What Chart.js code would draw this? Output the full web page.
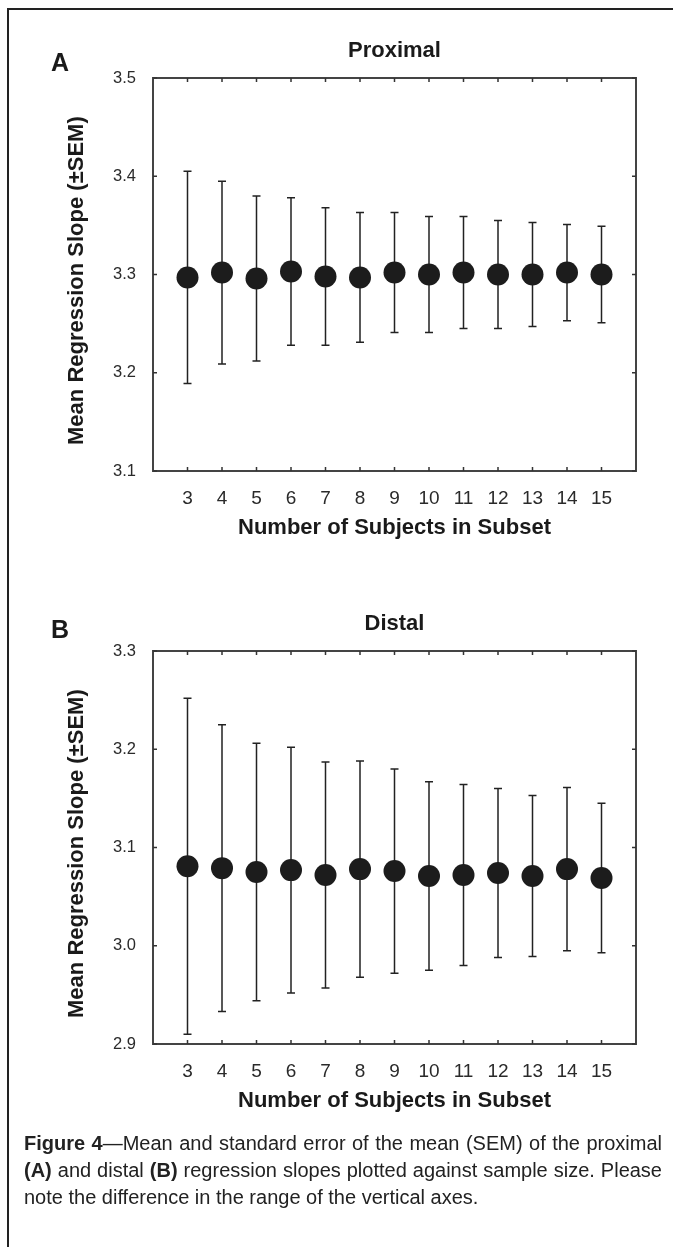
<!DOCTYPE html>
<html>
<head>
<meta charset="utf-8">
<script src="https://cdn.jsdelivr.net/npm/chart.js@4.4.1/dist/chart.umd.min.js"></script>
<style>
  html, body { margin: 0; padding: 0; background: #fff; }
  body { width: 673px; height: 1247px; position: relative; overflow: hidden; }
  #frame { position: absolute; left: 7px; top: 8px; right: -4px; bottom: -4px;
           border-top: 2px solid #222; border-left: 2px solid #222; }
  canvas { position: absolute; left: 0; }
  #chartA { top: 0; }
  #chartB { top: 573px; }
  #caption { position: absolute; left: 24px; top: 1130px; width: 638px;
             font-family: "Liberation Sans", Arial, sans-serif; font-size: 20px;
             line-height: 27px; color: #222; }
  #caption .line { white-space: nowrap; }
  #caption .j { text-align: justify; text-align-last: justify; }
</style>
</head>
<body>
<div id="frame"></div>
<canvas id="chartA" width="673" height="573"></canvas>
<canvas id="chartB" width="673" height="573"></canvas>
<div id="caption">
  <div class="line j"><b>Figure 4</b>—Mean and standard error of the mean (SEM) of the proximal</div>
  <div class="line j"><b>(A)</b> and distal <b>(B)</b> regression slopes plotted against sample size. Please</div>
  <div class="line">note the difference in the range of the vertical axes.</div>
</div>
<script>
// number of subjects in subset (x axis)
const subsets = [3, 4, 5, 6, 7, 8, 9, 10, 11, 12, 13, 14, 15]

// panel A, proximal
const proximalMean = [3.297, 3.302, 3.296, 3.303, 3.298, 3.297, 3.302, 3.300, 3.302, 3.300, 3.300, 3.302, 3.300]
const proximalSem = [0.108, 0.093, 0.084, 0.075, 0.070, 0.066, 0.061, 0.059, 0.057, 0.055, 0.053, 0.049, 0.049]
const proximalTicks = [3.1, 3.2, 3.3, 3.4, 3.5]

// panel B, distal
const distalMean = [3.081, 3.079, 3.075, 3.077, 3.072, 3.078, 3.076, 3.071, 3.072, 3.074, 3.071, 3.078, 3.069]
const distalSem = [0.171, 0.146, 0.131, 0.125, 0.115, 0.110, 0.104, 0.096, 0.092, 0.086, 0.082, 0.083, 0.076]
const distalTicks = [2.9, 3.0, 3.1, 3.2, 3.3]

Chart.defaults.font.family = '"Liberation Sans", Arial, sans-serif'
Chart.defaults.color = "#2a2a2a"

// error bars, box and inward ticks, panel letter
const figurePlugin = {
    id: "figure",
    beforeDatasetsDraw(chart, args, opts) {
        const ctx = chart.ctx
        const xs = chart.scales.x, ys = chart.scales.y
        ctx.save()
        ctx.strokeStyle = "#222"
        ctx.lineWidth = 1.5
        opts.mean.forEach((m, i) => {
            const x = xs.getPixelForValue(subsets[i])
            const top = ys.getPixelForValue(m + opts.sem[i])
            const bot = ys.getPixelForValue(m - opts.sem[i])
            ctx.beginPath()
            ctx.moveTo(x, top); ctx.lineTo(x, bot)
            ctx.moveTo(x - 4, top); ctx.lineTo(x + 4, top)
            ctx.moveTo(x - 4, bot); ctx.lineTo(x + 4, bot)
            ctx.stroke()
        })
        ctx.restore()
    },
    afterDraw(chart, args, opts) {
        const ctx = chart.ctx
        const a = chart.chartArea
        const xs = chart.scales.x, ys = chart.scales.y
        ctx.save()
        ctx.strokeStyle = "#444"
        ctx.lineWidth = 2
        ctx.strokeRect(a.left, a.top, a.right - a.left, a.bottom - a.top)
        ctx.lineWidth = 1.5
        ctx.strokeStyle = "#333"
        ctx.beginPath()
        xs.ticks.forEach(t => {
            const x = xs.getPixelForValue(t.value)
            ctx.moveTo(x, a.bottom); ctx.lineTo(x, a.bottom - 4)
            ctx.moveTo(x, a.top); ctx.lineTo(x, a.top + 4)
        })
        ys.ticks.forEach(t => {
            const y = ys.getPixelForValue(t.value)
            ctx.moveTo(a.left, y); ctx.lineTo(a.left + 4, y)
            ctx.moveTo(a.right, y); ctx.lineTo(a.right - 4, y)
        })
        ctx.stroke()
        ctx.fillStyle = "#1a1a1a"
        ctx.font = 'bold 25px "Liberation Sans", Arial, sans-serif'
        ctx.textAlign = "center"
        ctx.textBaseline = "middle"
        ctx.fillText(opts.letter, 60, opts.letterY)
        ctx.restore()
    }
}

function makePanel(id, title, letter, letterY, mean, sem, yTicks) {
    return new Chart(document.getElementById(id), {
        type: "scatter",
        data: {
            datasets: [{
                data: subsets.map((s, i) => ({ x: s, y: mean[i] })),
                pointRadius: 11,
                pointHoverRadius: 11,
                backgroundColor: "#1c1c1c",
                borderWidth: 0,
            }]
        },
        options: {
            responsive: false,
            animation: false,
            devicePixelRatio: 1,
            layout: { padding: { left: 0, right: 37, top: 0, bottom: 0 } },
            plugins: {
                legend: { display: false },
                tooltip: { enabled: false },
                title: {
                    display: true,
                    text: title,
                    fullSize: false,
                    color: "#1a1a1a",
                    font: { size: 22, weight: "bold" },
                    padding: { top: 38, bottom: 13.6 },
                },
                figure: { mean: mean, sem: sem, letter: letter, letterY: letterY },
            },
            scales: {
                x: {
                    type: "linear",
                    min: 2,
                    max: 16,
                    afterBuildTicks(scale) { scale.ticks = subsets.map(v => ({ value: v })) },
                    afterFit(scale) { scale.height = 102 },
                    grid: { display: false },
                    border: { display: false },
                    ticks: { font: { size: 19 }, padding: 8, maxRotation: 0, autoSkip: false,
                             callback: v => String(v) },
                    title: {
                        display: true,
                        text: "Number of Subjects in Subset",
                        color: "#1a1a1a",
                        font: { size: 22, weight: "bold" },
                        padding: { top: 0, bottom: 31.8 },
                    },
                },
                y: {
                    type: "linear",
                    min: yTicks[0],
                    max: yTicks[yTicks.length - 1],
                    afterBuildTicks(scale) { scale.ticks = yTicks.map(v => ({ value: v })) },
                    afterFit(scale) { scale.width = 153 },
                    grid: { display: false },
                    border: { display: false },
                    ticks: { font: { size: 16.5 }, padding: 9, callback: v => v.toFixed(1) },
                    title: {
                        display: true,
                        // trailing spaces nudge the rotated title down a little, as in the figure
                        text: "Mean Regression Slope (±SEM)  ",
                        color: "#1a1a1a",
                        font: { size: 22, weight: "bold" },
                        padding: { top: 63.8, bottom: 0 },
                    },
                },
            },
        },
        plugins: [figurePlugin],
    })
}

makePanel("chartA", "Proximal", "A", 64, proximalMean, proximalSem, proximalTicks)
makePanel("chartB", "Distal", "B", 58, distalMean, distalSem, distalTicks)
</script>
</body>
</html>
